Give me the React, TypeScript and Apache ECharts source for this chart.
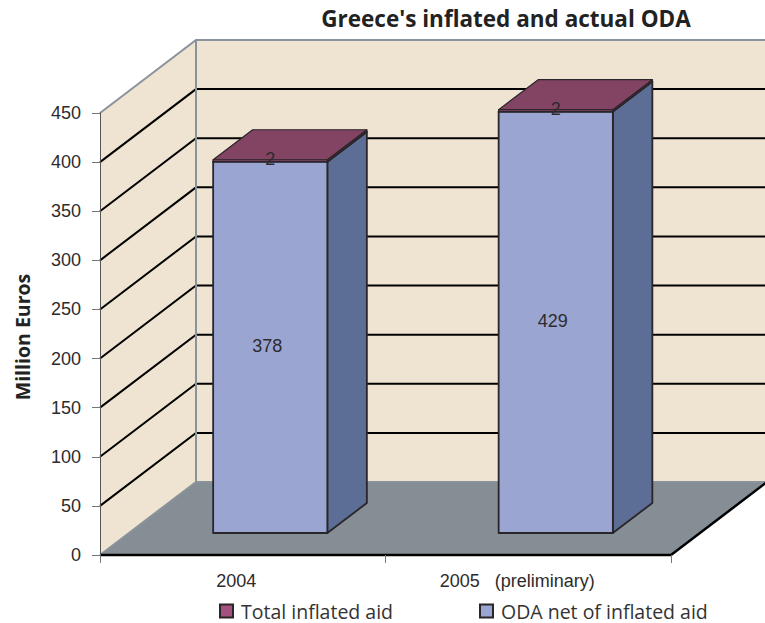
import React, { useEffect, useRef } from "react";
import * as echarts from "echarts";

const titleText = "Greece's inflated and actual ODA";
const yAxisName = "Million Euros";
const categories = ["2004", "2005"];
const categorySuffix = ["", "   (preliminary)"];
const odaNet = [378, 429];
const inflated = [2, 2];
const yTicks = [0, 50, 100, 150, 200, 250, 300, 350, 400, 450];
const seriesNames = ["Total inflated aid", "ODA net of inflated aid"];

const NUM = "'Liberation Sans', sans-serif";
const HUMAN = "'Open Sans', 'Noto Sans', sans-serif";
const WALL = "#EFE4D2";
const FLOOR = "#868E95";
const GREY = "#8A939B";
const EDGE = "#2A2528";
const INK = "#2E2B2C";

const WALL_DX = 96;
const WALL_DY = -73;
const BAR_DX = 27.5;
const BAR_DY = -22;
const SIDE_DX = 39.5;
const SIDE_DY = -30;
const BAR_FRACTION = 0.4;

const renderWalls = (params: any, api: any) => {
  const cs = params.coordSys;
  const x0 = cs.x;
  const x1 = cs.x + cs.width;
  const yBottom = cs.y + cs.height;
  const backX = x0 + WALL_DX;
  const backRight = x1 + WALL_DX;
  const children: any[] = [
    {
      type: "polygon",
      shape: { points: [[backX, cs.y + WALL_DY], [backRight, cs.y + WALL_DY], [backRight, yBottom + WALL_DY], [backX, yBottom + WALL_DY]] },
      style: { fill: WALL, stroke: "none" },
    },
    {
      type: "polygon",
      shape: { points: [[x0, cs.y], [backX, cs.y + WALL_DY], [backX, yBottom + WALL_DY], [x0, yBottom]] },
      style: { fill: WALL, stroke: "none" },
    },
    {
      type: "polygon",
      shape: { points: [[x0, yBottom], [backX, yBottom + WALL_DY], [backRight, yBottom + WALL_DY], [x1, yBottom]] },
      style: { fill: FLOOR, stroke: "none" },
    },
  ];
  yTicks.forEach((t) => {
    const y = api.coord([0, t])[1];
    if (t === 0 || t === 450) return;
    children.push({
      type: "polyline",
      shape: { points: [[x0, y], [backX, y + WALL_DY], [backRight, y + WALL_DY]] },
      style: { fill: "none", stroke: "#000", lineWidth: 2 },
    });
  });
  children.push(
    {
      type: "polyline",
      shape: { points: [[x0, cs.y], [backX, cs.y + WALL_DY], [backRight, cs.y + WALL_DY]] },
      style: { fill: "none", stroke: GREY, lineWidth: 2 },
    },
    {
      type: "polyline",
      shape: { points: [[backX, cs.y + WALL_DY], [backX, yBottom + WALL_DY], [backRight, yBottom + WALL_DY]] },
      style: { fill: "none", stroke: GREY, lineWidth: 2 },
    },
    {
      type: "line",
      shape: { x1: x0, y1: yBottom, x2: backX, y2: yBottom + WALL_DY },
      style: { stroke: GREY, lineWidth: 2 },
    },
    {
      type: "polyline",
      shape: { points: [[x0, yBottom], [x1, yBottom], [backRight, yBottom + WALL_DY]] },
      style: { fill: "none", stroke: "#000", lineWidth: 2.5 },
    },
  );
  return { type: "group", children };
};

const makeBarRenderer = (front: string, side: string, top: string, labelY: "middle" | "top", lineWidth: number) =>
  (params: any, api: any) => {
    const idx = api.value(0);
    const topPt = api.coord([idx, api.value(1)]);
    const basePt = api.coord([idx, api.value(2)]);
    const w = api.size([1, 0])[0] * BAR_FRACTION;
    const xL = topPt[0] + BAR_DX - w / 2;
    const xR = xL + w;
    const yT = topPt[1] + BAR_DY;
    const yB = basePt[1] + BAR_DY;
    const style = { stroke: EDGE, lineWidth, lineJoin: "round" };
    const labelPos = labelY === "middle" ? (yT + yB) / 2 : yT;
    return {
      type: "group",
      children: [
        {
          type: "polygon",
          shape: { points: [[xR, yT], [xR + SIDE_DX, yT + SIDE_DY], [xR + SIDE_DX, yB + SIDE_DY], [xR, yB]] },
          style: { fill: side, ...style },
        },
        {
          type: "polygon",
          shape: { points: [[xL, yT], [xR, yT], [xR, yB], [xL, yB]] },
          style: { fill: front, ...style },
        },
        {
          type: "polygon",
          shape: { points: [[xL, yT], [xL + SIDE_DX, yT + SIDE_DY], [xR + SIDE_DX, yT + SIDE_DY], [xR, yT]] },
          style: { fill: top, ...style },
        },
        {
          type: "text",
          style: {
            text: String(api.value(3)),
            x: (xL + xR) / 2 - (labelY === "middle" ? 3 : 0),
            y: labelPos - 1,
            align: "center",
            verticalAlign: "middle",
            font: `18px ${NUM}`,
            fill: INK,
          },
        },
      ],
    };
  };

const legendBase = {
  top: 601,
  padding: 0,
  selectedMode: false,
  itemWidth: 13,
  itemHeight: 13,
  itemGap: 0,
  icon: "rect",
  textStyle: { fontFamily: HUMAN, fontSize: 19.5, color: "#333", padding: [0, 0, 0, 3] },
};

export default function App() {
  const ref = useRef<HTMLDivElement>(null);
  useEffect(() => {
    const chart = echarts.init(ref.current!, undefined, { renderer: "svg" });
    chart.setOption({
      animation: false,
      backgroundColor: "#fff",
      title: {
        text: titleText,
        left: 501,
        top: 2,
        textAlign: "center",
        textStyle: { fontFamily: HUMAN, fontWeight: "bold", fontSize: 22.5, color: "#222" },
      },
      grid: { left: 100, right: 94, top: 113, bottom: 68 },
      xAxis: {
        type: "category",
        data: categories,
        z: 5,
        axisLine: { show: false },
        axisTick: { show: true, length: 8, lineStyle: { color: "#777", width: 1 } },
        splitLine: { show: false },
        axisLabel: {
          margin: 17,
          formatter: (v: string, i: number) => `{${i === 0 ? "a" : "b"}|${v}${categorySuffix[i]}}`,
          rich: {
            a: { fontFamily: NUM, fontSize: 18, color: INK, padding: [0, 13, 0, 0] },
            b: { fontFamily: NUM, fontSize: 18, color: INK, padding: [0, 22, 0, 0] },
          },
        },
      },
      yAxis: {
        type: "value",
        min: 0,
        max: 450,
        interval: 50,
        z: 5,
        name: yAxisName,
        nameLocation: "middle",
        nameGap: 67.5,
        nameTextStyle: { fontFamily: HUMAN, fontWeight: "bold", fontSize: 19.5, color: "#222", padding: [0, 6, 0, 0] },
        axisLine: { show: true, lineStyle: { color: "#555", width: 1 } },
        axisTick: { show: true, length: 8, lineStyle: { color: "#777", width: 1 } },
        splitLine: { show: false },
        axisLabel: { margin: 19, fontFamily: NUM, fontSize: 18, color: INK },
      },
      legend: [
        { ...legendBase, left: 219, data: [seriesNames[0]] },
        { ...legendBase, left: 479, data: [seriesNames[1]] },
      ],
      series: [
        {
          type: "custom",
          name: "walls",
          silent: true,
          clip: false,
          z: 1,
          data: [[0, 0]],
          encode: { x: 0, y: 1 },
          renderItem: renderWalls,
        },
        {
          type: "custom",
          name: seriesNames[1],
          clip: false,
          z: 2,
          itemStyle: { color: "#9AA5D2", borderColor: EDGE, borderWidth: 1 },
          encode: { x: 0, y: 1 },
          data: categories.map((_, i) => [i, odaNet[i], 0, odaNet[i]]),
          renderItem: makeBarRenderer("#9AA5D2", "#5C6E96", "#9AA5D2", "middle", 1.8),
        },
        {
          type: "custom",
          name: seriesNames[0],
          clip: false,
          z: 3,
          itemStyle: { color: "#A5517F", borderColor: EDGE, borderWidth: 1 },
          encode: { x: 0, y: 1 },
          data: categories.map((_, i) => [i, odaNet[i] + inflated[i], odaNet[i], inflated[i]]),
          renderItem: makeBarRenderer("#A5517F", "#5A2E48", "#834363", "top", 1.2),
        },
      ],
    });
    return () => chart.dispose();
  }, []);
  return <div ref={ref} style={{ position: "absolute", left: 0, top: 0, width: 765, height: 623 }} />;
}
